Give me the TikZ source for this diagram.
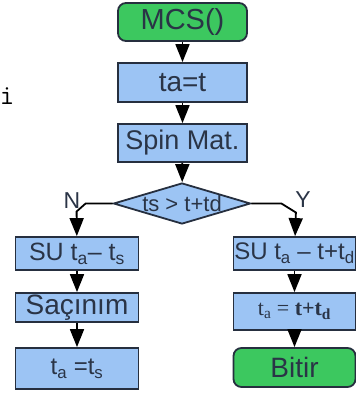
\documentclass[tikz,border=0pt]{standalone}
\usepackage{fontspec}
\setmainfont{Liberation Sans}
\setmonofont{Latin Modern Mono}
\newfontfamily\seriffont{Liberation Serif}
\usetikzlibrary{arrows.meta, shapes.geometric}
\definecolor{boxblue}{RGB}{156,196,244}
\definecolor{boxgreen}{RGB}{60,200,95}
\definecolor{ink}{RGB}{42,52,70}
\newcommand{\fs}[1]{\fontsize{#1}{#1}\selectfont}

\begin{document}
\begin{tikzpicture}[x=1pt,y=-1pt,
    blk/.style={draw=ink!90!black, line width=1.8pt, fill=boxblue, text=ink, inner sep=0pt},
    term/.style={blk, fill=boxgreen, rounded corners=8pt},
    flow/.style={line width=1.8pt, -{Triangle[width=14pt,length=18pt]}}]
    \useasboundingbox (0,0) rectangle (356,397);
    % start and main column
    \node[term, minimum width=129pt, minimum height=38pt] (mcs) at (182.5,22) {\fs{29}MCS()};
    \node[blk, minimum width=129pt, minimum height=39pt] (tat) at (182.5,82.5) {\fs{28}ta=t};
    \node[blk, minimum width=129pt, minimum height=38pt] (spin) at (182.5,143) {\fs{27}Spin Mat.};
    \node[blk, diamond, aspect=3.34, inner sep=-8pt, minimum width=137pt, minimum height=41pt] (dec) at (182,203.5) {\fs{22}ts > t+td};
    \node[text=ink] (no) at (72,201) {\fs{23}N};
    \node[text=ink] (yes) at (303,200) {\fs{23}Y};
    % left branch
    \node[blk, minimum width=123pt, minimum height=33pt] (suL) at (77,253.5) {\fs{25}SU t\textsubscript{a}-- t\textsubscript{s}};
    \node[blk, minimum width=123pt, minimum height=29pt] (sac) at (77,307.5) {\fs{28}Saçınım};
    \node[blk, minimum width=123pt, minimum height=41pt] (tasL) at (77,368.5) {\fs{24}t\textsubscript{a} =t\textsubscript{s}};
    % right branch
    \node[blk, minimum width=122pt, minimum height=33pt] (suR) at (294.5,253.5) {\fs{24}SU t\textsubscript{a} -- t+t\textsubscript{d}};
    \node[blk, minimum width=122pt, minimum height=37pt] (tatd) at (294.5,311.5) {\fs{22}\seriffont t\textsubscript{a} = \textbf{t+t\textsubscript{d}}};
    \node[term, minimum width=122pt, minimum height=39pt] (bitir) at (294.5,367.5) {\fs{28}Bitir};
    % stray text at the left edge
    \node[text=black, inner sep=0pt] (cut) at (7,96) {\fs{28}\ttfamily i};

    \draw[flow] (mcs) -- (tat);
    \draw[flow] (tat) -- (spin);
    \draw[flow] (spin) -- (dec);
    \draw[flow] (dec.west) -- ++(-27,0) -- ++(-9,8) -- (suL);
    \draw[flow] (dec.east) -- ++(30,0) -- ++(14.5,9) -- (suR);
    \draw[flow] (suL) -- (sac);
    \draw[flow] (sac) -- (tasL);
    \draw[flow] (suR) -- (tatd);
    \draw[flow] (tatd) -- (bitir);
\end{tikzpicture}
\end{document}
